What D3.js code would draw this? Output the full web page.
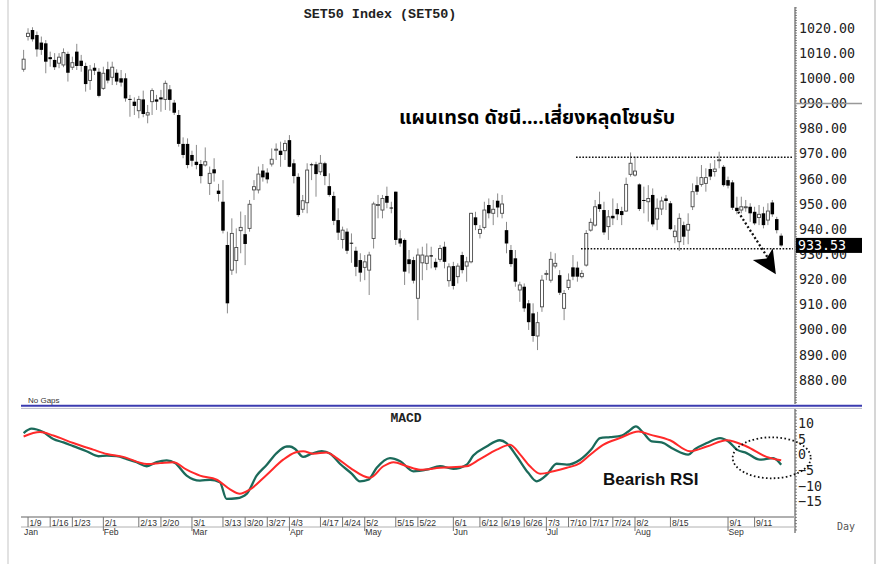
<!DOCTYPE html>
<html><head><meta charset="utf-8">
<script src="https://cdn.jsdelivr.net/npm/d3@7"></script>
<style>body{margin:0;background:#fff}svg{display:block}</style>
</head><body><svg id="c" width="880" height="564"></svg>
<script>
// ---- data ----
const opens=[1003.6,1016.6,1019.2,1017.2,1014.2,1013.9,1008.4,1007.3,1006.0,1005.3,1009.7,1004.4,1010.6,1007.0,1004.9,999.1,1004.2,1002.6,996.0,1003.6,
1000.4,1002.2,1000.0,1000.0,991.8,990.7,987.1,991.6,985.4,990.7,991.6,992.4,991.6,995.6,990.3,985.4,973.9,973.9,969.5,966.8,
965.9,965.5,958.2,963.8,955.3,950.9,933.7,923.7,927.5,939.4,938.0,940.3,955.6,955.6,963.3,962.5,965.9,971.5,971.2,971.2,
975.4,966.2,960.8,947.9,950.5,965.8,965.8,962.8,966.2,957.1,953.2,943.6,935.9,939.0,934.6,931.4,927.7,924.8,923.7,936.3,
949.6,947.6,953.2,948.6,954.9,936.3,935.7,928.0,927.7,912.5,926.6,926.4,929.6,927.0,928.0,933.0,919.5,925.3,921.1,929.7,
925.3,927.0,944.7,938.3,940.7,949.6,946.3,951.3,946.3,939.6,931.7,928.4,915.8,917.1,910.5,906.5,897.5,909.1,922.2,919.7,
925.3,921.7,908.5,916.8,924.8,924.7,921.1,925.7,939.6,941.6,949.9,947.6,941.0,945.3,948.0,947.2,947.2,961.8,961.5,957.8,
951.6,950.9,953.6,944.0,948.0,952.2,950.3,937.0,935.0,941.6,939.6,948.9,957.5,957.8,958.2,963.9,962.9,967.4,964.8,959.5,
958.6,948.5,947.6,948.9,948.9,946.9,944.6,946.3,943.6,950.6,944.0,937.4];
const highs=[1011.3,1019.9,1020.3,1018.6,1016.6,1015.2,1010.6,1010.0,1010.0,1011.9,1010.6,1008.6,1013.7,1009.3,1006.2,1005.3,1006.0,1004.0,1004.6,1006.6,
1006.6,1003.6,1003.3,1002.0,993.4,992.4,993.0,995.1,989.4,996.0,993.4,995.4,999.1,997.3,991.4,987.4,976.5,976.1,971.2,973.5,
967.5,972.5,964.9,968.2,958.0,959.5,939.0,944.3,940.3,947.0,945.6,951.6,959.5,964.9,965.9,964.2,972.1,974.1,974.8,975.4,
977.4,967.8,962.2,953.6,966.2,966.4,966.8,969.5,966.8,962.2,954.9,948.3,941.0,940.3,938.3,933.0,930.4,929.7,931.0,950.9,
953.6,953.6,956.9,950.9,954.9,939.6,936.3,931.7,929.0,932.3,933.0,934.3,933.0,928.4,933.7,935.0,926.4,927.0,926.4,931.0,
929.0,946.5,946.9,941.6,950.9,952.2,951.6,954.2,953.6,942.9,933.7,931.7,919.1,918.4,911.8,910.5,907.1,921.7,923.7,931.0,
930.4,923.7,915.8,922.4,929.7,927.1,923.7,939.6,944.3,951.6,954.9,950.9,947.6,952.2,950.3,948.9,960.5,970.5,968.8,958.2,
956.9,957.5,956.2,952.2,952.9,953.6,951.2,941.6,946.3,943.0,946.3,958.2,960.9,965.5,964.2,966.2,967.5,970.8,965.5,960.9,
959.5,952.9,952.9,951.6,950.3,948.9,949.6,948.9,950.3,951.6,944.9,938.3];
const lows=[1002.6,1015.0,1014.6,1008.6,1009.3,1002.0,1004.6,1003.3,1004.0,1004.4,998.7,1003.3,1003.3,1002.6,994.7,995.4,1001.3,992.4,995.4,998.0,
997.3,997.3,996.7,990.7,984.7,985.4,984.1,984.5,982.1,985.4,987.4,986.7,987.4,987.1,985.4,972.8,968.2,964.2,964.9,963.8,
958.2,964.9,953.6,958.9,951.0,938.3,906.5,921.8,922.4,930.4,925.7,939.0,951.6,954.2,958.9,958.2,964.9,967.5,964.8,967.5,
964.6,958.2,944.9,946.5,946.3,959.5,952.9,961.5,957.5,952.9,941.6,935.7,932.3,930.1,926.6,921.3,919.1,919.7,913.8,932.3,
944.3,944.3,948.3,946.3,933.7,933.0,917.8,922.4,918.4,903.8,919.7,923.7,924.4,923.7,927.0,924.4,917.1,916.0,918.4,922.4,
919.1,926.4,939.6,936.3,939.9,944.3,941.6,944.7,944.3,930.4,925.0,917.1,911.1,907.1,899.9,895.2,891.9,907.1,919.7,918.7,
924.4,913.8,903.8,915.8,919.7,919.1,920.4,925.1,939.0,941.0,946.9,937.7,935.7,941.6,943.6,941.6,946.9,960.9,960.9,947.2,
946.3,943.0,941.0,939.6,945.6,947.6,939.6,934.4,931.3,933.7,934.0,947.6,953.6,956.9,954.9,959.5,960.9,964.2,956.9,956.2,
947.6,945.9,946.3,946.9,942.9,941.6,941.6,940.3,941.6,944.9,938.3,933.0];
const closes=[1007.6,1017.9,1015.5,1011.5,1011.3,1006.6,1007.6,1004.4,1008.4,1010.2,1002.2,1006.2,1004.9,1004.9,997.7,1003.3,1003.0,993.0,1002.0,999.1,
1004.4,998.7,998.3,992.0,991.6,989.0,991.6,985.8,986.3,995.1,990.7,991.6,998.0,991.4,986.3,973.9,969.5,965.5,967.2,965.5,
961.1,966.8,962.2,962.2,954.0,939.4,910.5,938.3,932.7,940.7,934.1,949.9,956.9,961.9,960.6,959.8,967.8,971.8,969.5,974.1,
964.8,961.1,945.6,951.3,963.5,965.6,961.9,966.2,961.1,953.6,943.3,938.6,939.6,931.4,934.3,925.0,922.7,927.0,929.7,950.0,
949.8,952.2,950.5,948.2,935.7,934.3,923.1,926.1,919.5,929.7,929.7,929.3,929.1,924.8,932.3,927.0,925.0,917.4,925.3,923.7,
927.0,946.3,941.6,939.9,947.6,946.3,947.9,948.6,950.0,934.3,926.1,919.1,917.8,908.5,903.0,897.5,902.8,919.7,922.4,928.0,
926.4,914.7,914.4,919.7,921.1,921.1,922.4,938.3,942.7,948.9,948.0,938.7,944.9,944.3,945.9,945.6,957.8,966.2,963.1,948.0,
951.5,952.2,941.9,948.3,951.2,951.2,940.0,939.2,944.3,937.0,941.9,954.9,954.9,960.5,960.5,960.9,963.9,967.6,957.5,957.3,
948.5,947.2,948.9,948.9,946.3,942.3,945.9,941.6,947.2,945.9,939.6,933.5];

const macdDays  =[0,1.8,4.4,6.7,9.0,11.2,14.2,16.9,18.8,21.0,23.3,25.5,27.8,30.0,32.3,34.2,36.8,39.8,42.1,44.3,45.8,48.1,50.4,52.6,54.9,57.1,59.4,60.1,61.3,63.1,65.0,67.3,69.2,71.4,74.1,75.9,77.8,79.7,82.7,85.0,88.0,91.0,94.0,97.0,100.0,101.5,104.5,107.5,109.0,111.3,113.9,115.8,118.1,120.3,122.6,125.6,128.2,130.1,132.4,135.0,136.5,138.2,139.9,141.8,144.0,146.7,150.0,151.6,154.2,157.2,159.1,161.0,163.2,166.2,169.2,171];
const macdValues=[6.9,8.3,7.2,5.0,3.9,2.7,1.1,-0.5,-0.3,-0.5,-1.4,-2.4,-3.7,-2.4,-1.8,-2.7,-6.7,-8.3,-8.0,-8.8,-14.1,-13.9,-12.4,-6.7,-3.2,0.5,2.6,2.6,1.8,-0.7,0.3,1.1,0.3,-2.9,-6.1,-8.5,-8.0,-4.2,-1.1,-2.1,-5.3,-4.8,-3.7,-4.5,-3.2,-0.3,2.6,4.6,3.7,-0.5,-5.8,-8.5,-6.4,-2.9,-3.2,-1.6,1.8,5.3,5.6,6.1,7.4,9.0,6.9,4.2,3.9,1.8,0,1.8,3.7,5.3,4.2,1.6,0.5,-1.6,-1.1,-3.2];
const signalDays  =[0,3.7,6.7,11.2,15.7,18.8,22.5,27.8,30.8,33.8,36.8,39.8,43.6,46.6,48.8,51.1,54.9,58.6,61.3,63.1,65.4,68.4,70.7,73.7,78.2,81.2,83.5,86.5,89.5,94.0,100.0,103.0,106.8,109.8,112.1,114.3,116.6,119.6,122.6,125.6,127.9,130.9,134.6,138.8,141.4,145.9,150.4,154.2,158.7,163.2,167.7,171];
const signalValues=[5.8,7.2,6.1,3.7,1.6,0.2,-0.7,-3.0,-2.7,-2.4,-4.8,-6.7,-8.0,-11.1,-12.5,-11.1,-6.4,-1.6,0.7,1.1,0.3,0.7,-1.1,-4.2,-7.4,-3.7,-2.4,-3.7,-4.8,-4.2,-3.7,-1.4,1.6,3.2,0,-3.7,-6.1,-5.3,-4.2,-2.7,0,3.2,5.3,7.4,6.4,4.6,1.1,2.6,4.6,2.6,-0.7,-1.8];

const dayTicks=[1,6,11,18,26,31,38,45,50,55,60,67,72,77,84,89,97,103,108,113,118,123,128,133,138,146,159,165];
const dayLabels=["1/9","1/16","1/23","2/1","2/13","2/20","3/1","3/13","3/20","3/27","4/3","4/17","4/24","5/2","5/15","5/22","6/1","6/12","6/19","6/26","7/3","7/10","7/17","7/24","8/2","8/15","9/1","9/11"];
const monthTicks=[0,18,38,60,77,97,118,138,159];
const monthLabels=["Jan","Feb","Mar","Apr","May","Jun","Jul","Aug","Sep"];
const priceTicks=[880,890,900,910,920,930,940,950,960,970,980,990,1000,1010,1020];
const macdTicks=[10,5,0,-5,-10,-15];
const lastClose=933.53, resistance=968.6, support=932.2, crossPrice=990;
const title="SET50 Index (SET50)";
const noteThai="แผนเทรด ดัชนี....เสี่ยงหลุดโซนรับ";
const noteRSI="Bearish RSI";

// ---- drawing ----
const svg=d3.select("#c");
const axisX=795;
const x=d3.scaleLinear().domain([-0.5,171.5]).range([21.4,783.4]);
const y=d3.scaleLinear().domain([880,1020]).range([380,28]);
const ym=d3.scaleLinear().domain([-15,10]).range([501.7,423.3]);
const mono="'DejaVu Sans Mono',monospace";

// frame lines
svg.append("line").attr("x1",8).attr("x2",8).attr("y1",0).attr("y2",564).attr("stroke","#e2e2e2").attr("stroke-width",2);
svg.append("line").attr("x1",875).attr("x2",875).attr("y1",0).attr("y2",564).attr("stroke","#d6d6d6").attr("stroke-width",2);

// title
svg.append("text").attr("x",380).attr("y",18).attr("text-anchor","middle")
  .attr("font-family","'Liberation Mono','Courier New',monospace").attr("font-weight","bold").attr("font-size",13.4)
  .attr("fill","#222").text(title);

// price axis
svg.append("line").attr("x1",axisX).attr("x2",axisX).attr("y1",7).attr("y2",404).attr("stroke","#444");
const minorP=d3.range(871,1029,1);
svg.append("g").selectAll("line").data(minorP).join("line")
  .attr("x1",axisX).attr("x2",axisX+2).attr("y1",d=>y(d)).attr("y2",d=>y(d)).attr("stroke","#666").attr("stroke-width",0.8);
const pAxis=svg.append("g").attr("transform",`translate(${axisX},0)`)
  .call(d3.axisRight(y).tickValues(priceTicks).tickFormat(d3.format(".2f")).tickSize(0).tickPadding(4));
pAxis.select(".domain").remove();
pAxis.selectAll("text").attr("font-family",mono).attr("font-size",13.3).attr("fill","#222");

// crosshair at 990
svg.append("line").attr("x1",axisX).attr("x2",862).attr("y1",y(crossPrice)).attr("y2",y(crossPrice)).attr("stroke","#999").attr("stroke-width",1.5);

// candles
const g=svg.append("g");
const idx=d3.range(closes.length);
g.selectAll("line.w").data(idx).join("line").attr("class","w")
  .attr("x1",i=>x(i)).attr("x2",i=>x(i)).attr("y1",i=>y(highs[i])).attr("y2",i=>y(lows[i]))
  .attr("stroke","#8a8a8a").attr("stroke-width",1);
g.selectAll("rect").data(idx).join("rect")
  .attr("x",i=>x(i)-(closes[i]<opens[i]?1.75:1.5))
  .attr("width",i=>closes[i]<opens[i]?3.5:3)
  .attr("y",i=>y(Math.max(opens[i],closes[i])))
  .attr("height",i=>Math.max(1,Math.abs(y(opens[i])-y(closes[i]))))
  .attr("fill",i=>closes[i]<opens[i]?"#000":"#fff")
  .attr("stroke",i=>closes[i]<opens[i]?"none":"#4a4a4a").attr("stroke-width",0.9);

// support / resistance dotted lines
function dotted(sel){return sel.attr("stroke","#111").attr("stroke-width",1.6).attr("stroke-dasharray","1.6,1.6");}
dotted(svg.append("line").attr("x1",576).attr("x2",793).attr("y1",y(resistance)).attr("y2",y(resistance)));
dotted(svg.append("line").attr("x1",581).attr("x2",793).attr("y1",y(support)).attr("y2",y(support)));
// arrow (dotted shaft + stealth head), positioned in data space
dotted(svg.append("line").attr("x1",x(161.3)).attr("y1",y(946.9)).attr("x2",x(168.1)).attr("y2",y(928.3)))
  .attr("stroke-width",2.3).attr("stroke-dasharray","2,2.3");
const head=[[164.6,927.7],[167.7,928.3],[169.1,932.4],[169.8,922.1]];
svg.append("path").attr("d","M"+head.map(p=>x(p[0])+","+y(p[1])).join("L")+"Z").attr("fill","#000");

// last price tag
svg.append("rect").attr("x",796).attr("y",y(lastClose)-7.5).attr("width",66).attr("height",15).attr("fill","#000");
svg.append("text").attr("x",798).attr("y",y(lastClose)+4.8).attr("font-family",mono).attr("font-size",13.3).attr("fill","#fff").text(lastClose.toFixed(2));

// Thai note
svg.append("text").attr("x",399).attr("y",124).attr("font-family","'Noto Sans Thai','Noto Sans','Loma','Tlwg Typo','Garuda',sans-serif")
  .attr("font-weight","bold").attr("font-size",19.6).attr("fill","#000").text(noteThai);

// separator
svg.append("text").attr("x",28).attr("y",403).attr("font-family","'Liberation Sans',Arial,sans-serif").attr("font-size",8).attr("fill","#333").text("No Gaps");
svg.append("line").attr("x1",21).attr("x2",862).attr("y1",405.8).attr("y2",405.8).attr("stroke","#3b3bb0").attr("stroke-width",2);
svg.append("line").attr("x1",21).attr("x2",862).attr("y1",408.4).attr("y2",408.4).attr("stroke","#b8b8c8").attr("stroke-width",1);

// MACD panel
svg.append("text").attr("x",406).attr("y",422).attr("text-anchor","middle")
  .attr("font-family","'Liberation Mono','Courier New',monospace").attr("font-weight","bold").attr("font-size",13).attr("fill","#222").text("MACD");
svg.append("line").attr("x1",axisX).attr("x2",axisX).attr("y1",409).attr("y2",533).attr("stroke","#444");
svg.append("g").selectAll("line").data(d3.range(-24,15,1)).join("line")
  .attr("x1",axisX).attr("x2",axisX+2).attr("y1",d=>ym(d)).attr("y2",d=>ym(d)).attr("stroke","#666").attr("stroke-width",0.8);
const mAxis=svg.append("g").attr("transform",`translate(${axisX},0)`)
  .call(d3.axisRight(ym).tickValues(macdTicks).tickFormat(d=>d<0?"\u2212"+Math.abs(d):String(d)).tickSize(0).tickPadding(3));
mAxis.select(".domain").remove();
mAxis.selectAll("text").attr("font-family",mono).attr("font-size",13.3).attr("fill","#222");

const lineGen=d3.line().x(d=>x(d[0])).y(d=>ym(d[1])).curve(d3.curveMonotoneX);
svg.append("path").attr("d",lineGen(macdDays.map((d,i)=>[d,macdValues[i]]))).attr("fill","none").attr("stroke","#1b6a5a").attr("stroke-width",2.3);
svg.append("path").attr("d",lineGen(signalDays.map((d,i)=>[d,signalValues[i]]))).attr("fill","none").attr("stroke","#ff2a2a").attr("stroke-width",2);

// annotations in MACD
svg.append("text").attr("x",603).attr("y",485).attr("font-family","'Liberation Sans',Arial,sans-serif").attr("font-weight","bold").attr("font-size",17).attr("fill","#111").text(noteRSI);
svg.append("ellipse").attr("cx",771.7).attr("cy",457.8).attr("rx",39).attr("ry",20.5)
  .attr("fill","none").attr("stroke","#111").attr("stroke-width",1.8).attr("stroke-dasharray","1.6,2.4");

// date band
svg.append("line").attr("x1",21).attr("x2",axisX).attr("y1",517).attr("y2",517).attr("stroke","#b0b0b0").attr("stroke-width",2);
svg.append("line").attr("x1",21).attr("x2",axisX).attr("y1",527).attr("y2",527).attr("stroke","#b0b0b0").attr("stroke-width",1);
const band=svg.append("g").attr("font-family","'Liberation Sans',Arial,sans-serif").attr("fill","#333");
band.selectAll("line").data(dayTicks).join("line")
  .attr("x1",d=>x(d)).attr("x2",d=>x(d)).attr("y1",517).attr("y2",d=>monthTicks.includes(d)?531:527).attr("stroke","#777");
band.selectAll("text.d").data(dayTicks).join("text").attr("class","d")
  .attr("x",d=>x(d)+1.5).attr("y",525.5).attr("font-size",8.6).text((d,i)=>dayLabels[i]);
band.selectAll("text.m").data(monthTicks).join("text").attr("class","m")
  .attr("x",d=>x(d)+0.5).attr("y",535).attr("font-size",8.6).text((d,i)=>monthLabels[i]);
svg.append("text").attr("x",837).attr("y",530).attr("font-family",mono).attr("font-size",10).attr("fill","#555").text("Day");
</script></body></html>
